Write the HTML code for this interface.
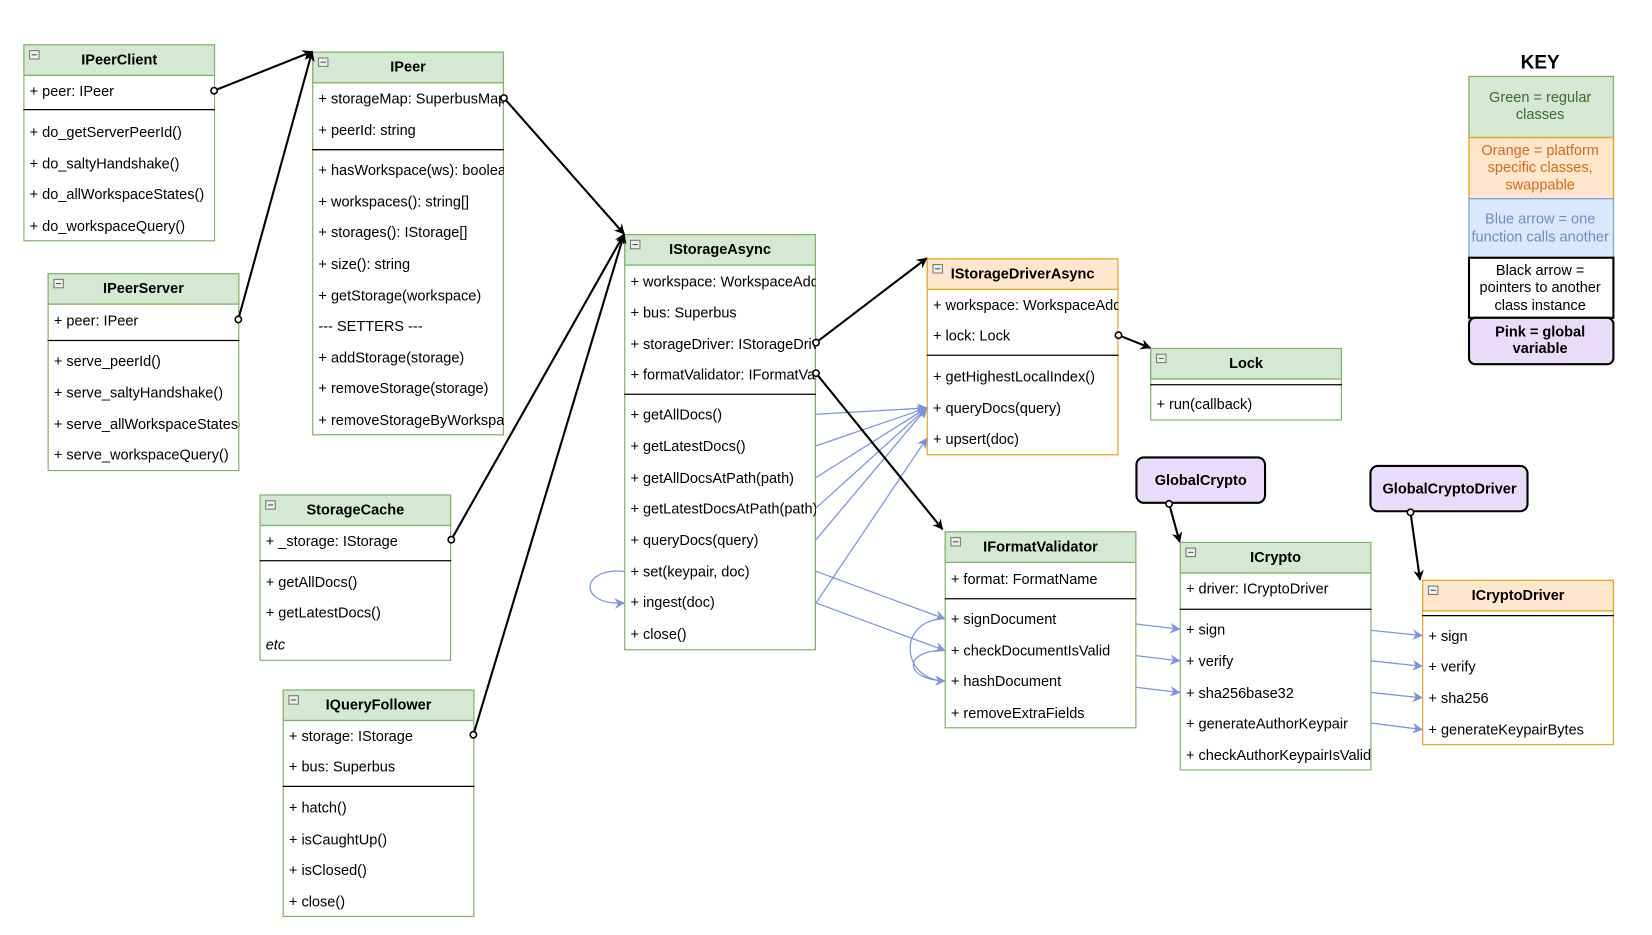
<!DOCTYPE html>
<html><head><meta charset="utf-8"><style>
html,body{margin:0;padding:0;background:#fff;width:1652px;height:935px;overflow:hidden}
text{font-family:"Liberation Sans",sans-serif;font-size:13.8px;fill:#000}
.h{font-weight:bold;text-anchor:middle}
.g{fill:#d5e8d4;stroke:#82b366;stroke-width:1.3}
.o{fill:#ffe6cc;stroke:#e6a817;stroke-width:1.3}
.w{fill:#fff}
.sep{stroke:#000;stroke-width:1.2}
.bl{stroke:#000;stroke-width:2;fill:none}
.bu{stroke:#7b93e6;stroke-width:1.2;fill:none}
</style></head><body>
<svg width="1652" height="935" viewBox="0 0 1567 887" xmlns="http://www.w3.org/2000/svg">
<defs>
<marker id="ak" markerWidth="10" markerHeight="10" refX="9" refY="5" orient="auto" markerUnits="userSpaceOnUse"><path d="M0,0 L10,5 L0,10 L3,5 Z" fill="#000"/></marker>
<marker id="ab" markerWidth="10" markerHeight="10" refX="9" refY="5" orient="auto" markerUnits="userSpaceOnUse"><path d="M0,0 L10,5 L0,10 L3,5 Z" fill="#7b93e6"/></marker>
<marker id="ci" markerWidth="8" markerHeight="8" refX="4" refY="4" orient="auto" markerUnits="userSpaceOnUse"><circle cx="4" cy="4" r="3" fill="#fff" stroke="#000" stroke-width="1.5"/></marker>
<g id="mi"><rect x="6" y="6" width="9" height="8" fill="#eee" stroke="#777" stroke-width="1"/><line x1="8" y1="10" x2="13" y2="10" stroke="#555"/></g>
</defs>

<!-- IPeerClient -->
<svg x="22" y="42" width="182" height="187" overflow="hidden">
<rect class="w" x="0.5" y="0.5" width="181" height="186" stroke="#82b366" stroke-width="1.3"/>
<rect class="g" x="0.5" y="0.5" width="181" height="29"/><use href="#mi"/>
<text class="h" x="91" y="19">IPeerClient</text>
<text x="6" y="49">+ peer: IPeer</text>
<line class="sep" x1="0" y1="62" x2="182" y2="62"/>
<text x="6" y="88">+ do_getServerPeerId()</text>
<text x="6" y="118">+ do_saltyHandshake()</text>
<text x="6" y="147">+ do_allWorkspaceStates()</text>
<text x="6" y="177">+ do_workspaceQuery()</text>
</svg>

<!-- IPeer -->
<svg x="296" y="49" width="182" height="364" overflow="hidden">
<rect class="w" x="0.5" y="0.5" width="181" height="363" stroke="#82b366" stroke-width="1.3"/>
<rect class="g" x="0.5" y="0.5" width="181" height="29"/><use href="#mi"/>
<text class="h" x="91" y="19">IPeer</text>
<text x="6" y="49">+ storageMap: SuperbusMap</text>
<text x="6" y="79">+ peerId: string</text>
<line class="sep" x1="0" y1="93" x2="182" y2="93"/>
<text x="6" y="117">+ hasWorkspace(ws): boolean</text>
<text x="6" y="147">+ workspaces(): string[]</text>
<text x="6" y="176">+ storages(): IStorage[]</text>
<text x="6" y="206">+ size(): string</text>
<text x="6" y="236">+ getStorage(workspace)</text>
<text x="6" y="265">--- SETTERS ---</text>
<text x="6" y="295">+ addStorage(storage)</text>
<text x="6" y="324">+ removeStorage(storage)</text>
<text x="6" y="354">+ removeStorageByWorkspace</text>
</svg>

<!-- IPeerServer -->
<svg x="45" y="259" width="182" height="188" overflow="hidden">
<rect class="w" x="0.5" y="0.5" width="181" height="187" stroke="#82b366" stroke-width="1.3"/>
<rect class="g" x="0.5" y="0.5" width="181" height="29"/><use href="#mi"/>
<text class="h" x="91" y="19">IPeerServer</text>
<text x="6" y="50">+ peer: IPeer</text>
<line class="sep" x1="0" y1="64" x2="182" y2="64"/>
<text x="6" y="88">+ serve_peerId()</text>
<text x="6" y="118">+ serve_saltyHandshake()</text>
<text x="6" y="148">+ serve_allWorkspaceStates()</text>
<text x="6" y="177">+ serve_workspaceQuery()</text>
</svg>

<!-- StorageCache -->
<svg x="246" y="469" width="182" height="158" overflow="hidden">
<rect class="w" x="0.5" y="0.5" width="181" height="157" stroke="#82b366" stroke-width="1.3"/>
<rect class="g" x="0.5" y="0.5" width="181" height="29"/><use href="#mi"/>
<text class="h" x="91" y="19">StorageCache</text>
<text x="6" y="49">+ _storage: IStorage</text>
<line class="sep" x1="0" y1="63" x2="182" y2="63"/>
<text x="6" y="88">+ getAllDocs()</text>
<text x="6" y="117">+ getLatestDocs()</text>
<text x="6" y="147" font-style="italic">etc</text>
</svg>

<!-- IQueryFollower -->
<svg x="268" y="654" width="182" height="216" overflow="hidden">
<rect class="w" x="0.5" y="0.5" width="181" height="215" stroke="#82b366" stroke-width="1.3"/>
<rect class="g" x="0.5" y="0.5" width="181" height="29"/><use href="#mi"/>
<text class="h" x="91" y="19">IQueryFollower</text>
<text x="6" y="49">+ storage: IStorage</text>
<text x="6" y="78">+ bus: Superbus</text>
<line class="sep" x1="0" y1="92" x2="182" y2="92"/>
<text x="6" y="117">+ hatch()</text>
<text x="6" y="147">+ isCaughtUp()</text>
<text x="6" y="176">+ isClosed()</text>
<text x="6" y="206">+ close()</text>
</svg>

<!-- IStorageAsync -->
<svg x="592" y="222" width="182" height="395" overflow="hidden">
<rect class="w" x="0.5" y="0.5" width="181" height="394" stroke="#82b366" stroke-width="1.3"/>
<rect class="g" x="0.5" y="0.5" width="181" height="29"/><use href="#mi"/>
<text class="h" x="91" y="19">IStorageAsync</text>
<text x="6" y="50">+ workspace: WorkspaceAddress</text>
<text x="6" y="79">+ bus: Superbus</text>
<text x="6" y="109">+ storageDriver: IStorageDriver</text>
<text x="6" y="138">+ formatValidator: IFormatValidator</text>
<line class="sep" x1="0" y1="152" x2="182" y2="152"/>
<text x="6" y="176">+ getAllDocs()</text>
<text x="6" y="206">+ getLatestDocs()</text>
<text x="6" y="236">+ getAllDocsAtPath(path)</text>
<text x="6" y="265">+ getLatestDocsAtPath(path)</text>
<text x="6" y="295">+ queryDocs(query)</text>
<text x="6" y="325">+ set(keypair, doc)</text>
<text x="6" y="354">+ ingest(doc)</text>
<text x="6" y="384">+ close()</text>
</svg>

<!-- IStorageDriverAsync -->
<svg x="879" y="245" width="182" height="187" overflow="hidden">
<rect class="w" x="0.5" y="0.5" width="181" height="186" stroke="#e6a817" stroke-width="1.3"/>
<rect class="o" x="0.5" y="0.5" width="181" height="29"/><use href="#mi"/>
<text class="h" x="91" y="19">IStorageDriverAsync</text>
<text x="6" y="49">+ workspace: WorkspaceAddress</text>
<text x="6" y="78">+ lock: Lock</text>
<line class="sep" x1="0" y1="92" x2="182" y2="92"/>
<text x="6" y="117">+ getHighestLocalIndex()</text>
<text x="6" y="147">+ queryDocs(query)</text>
<text x="6" y="176">+ upsert(doc)</text>
</svg>

<!-- Lock -->
<svg x="1091" y="330" width="182" height="69" overflow="hidden">
<rect class="w" x="0.5" y="0.5" width="181" height="68" stroke="#82b366" stroke-width="1.3"/>
<rect class="g" x="0.5" y="0.5" width="181" height="29"/><use href="#mi"/>
<text class="h" x="91" y="19">Lock</text>
<line class="sep" x1="0" y1="35" x2="182" y2="35"/>
<text x="6" y="58">+ run(callback)</text>
</svg>

<!-- IFormatValidator -->
<svg x="896" y="504" width="182" height="187" overflow="hidden">
<rect class="w" x="0.5" y="0.5" width="181" height="186" stroke="#82b366" stroke-width="1.3"/>
<rect class="g" x="0.5" y="0.5" width="181" height="29"/><use href="#mi"/>
<text class="h" x="91" y="19">IFormatValidator</text>
<text x="6" y="50">+ format: FormatName</text>
<line class="sep" x1="0" y1="64" x2="182" y2="64"/>
<text x="6" y="88">+ signDocument</text>
<text x="6" y="118">+ checkDocumentIsValid</text>
<text x="6" y="147">+ hashDocument</text>
<text x="6" y="177">+ removeExtraFields</text>
</svg>

<!-- ICrypto -->
<svg x="1119" y="514" width="182" height="217" overflow="hidden">
<rect class="w" x="0.5" y="0.5" width="181" height="216" stroke="#82b366" stroke-width="1.3"/>
<rect class="g" x="0.5" y="0.5" width="181" height="29"/><use href="#mi"/>
<text class="h" x="91" y="19">ICrypto</text>
<text x="6" y="49">+ driver: ICryptoDriver</text>
<line class="sep" x1="0" y1="64" x2="182" y2="64"/>
<text x="6" y="88">+ sign</text>
<text x="6" y="118">+ verify</text>
<text x="6" y="148">+ sha256base32</text>
<text x="6" y="177">+ generateAuthorKeypair</text>
<text x="6" y="207">+ checkAuthorKeypairIsValid</text>
</svg>

<!-- ICryptoDriver -->
<svg x="1349" y="550" width="182" height="157" overflow="hidden">
<rect class="w" x="0.5" y="0.5" width="181" height="156" stroke="#e6a817" stroke-width="1.3"/>
<rect class="o" x="0.5" y="0.5" width="181" height="29"/><use href="#mi"/>
<text class="h" x="91" y="19">ICryptoDriver</text>
<line class="sep" x1="0" y1="34" x2="182" y2="34"/>
<text x="6" y="58">+ sign</text>
<text x="6" y="87">+ verify</text>
<text x="6" y="117">+ sha256</text>
<text x="6" y="147">+ generateKeypairBytes</text>
</svg>

<!-- Globals -->
<rect x="1078" y="434" width="122" height="43" rx="7" fill="#e8dcf8" stroke="#000" stroke-width="2"/>
<text class="h" x="1139" y="460">GlobalCrypto</text>
<rect x="1300" y="442" width="149" height="43" rx="7" fill="#e8dcf8" stroke="#000" stroke-width="2"/>
<text class="h" x="1375" y="468">GlobalCryptoDriver</text>

<!-- KEY -->
<text class="h" x="1461" y="65" style="font-size:18px">KEY</text>
<rect x="1393.5" y="72.5" width="137" height="58" fill="#d5e8d4" stroke="#82b366" stroke-width="1.3"/>
<text x="1461" y="97" text-anchor="middle" style="fill:#3c6b28">Green = regular</text>
<text x="1461" y="113" text-anchor="middle" style="fill:#3c6b28">classes</text>
<rect x="1393.5" y="130.5" width="137" height="58" fill="#ffe6cc" stroke="#e6a817" stroke-width="1.3"/>
<text x="1461" y="147" text-anchor="middle" style="fill:#d96b1a">Orange = platform</text>
<text x="1461" y="163" text-anchor="middle" style="fill:#d96b1a">specific classes,</text>
<text x="1461" y="180" text-anchor="middle" style="fill:#d96b1a">swappable</text>
<rect x="1393.5" y="188.5" width="137" height="56" fill="#dae8fc" stroke="#7ea6e0" stroke-width="1.3"/>
<text x="1461" y="212" text-anchor="middle" style="fill:#6c8ebf">Blue arrow = one</text>
<text x="1461" y="229" text-anchor="middle" style="fill:#6c8ebf">function calls another</text>
<rect x="1393.5" y="244.5" width="137" height="57" fill="#fff" stroke="#000" stroke-width="2"/>
<text x="1461" y="261" text-anchor="middle">Black arrow =</text>
<text x="1461" y="277" text-anchor="middle">pointers to another</text>
<text x="1461" y="294" text-anchor="middle">class instance</text>
<rect x="1393.5" y="301.5" width="137" height="44" rx="6" fill="#e8dcf8" stroke="#000" stroke-width="2"/>
<text class="h" x="1461" y="319">Pink = global</text>
<text class="h" x="1461" y="335">variable</text>

<!-- Blue arrows -->
<g class="bu">
<line x1="774" y1="393" x2="879" y2="387" marker-end="url(#ab)"/>
<line x1="774" y1="423" x2="879" y2="387" marker-end="url(#ab)"/>
<line x1="774" y1="453" x2="879" y2="387" marker-end="url(#ab)"/>
<line x1="774" y1="482" x2="879" y2="387" marker-end="url(#ab)"/>
<line x1="774" y1="512" x2="879" y2="387" marker-end="url(#ab)"/>
<line x1="774" y1="572" x2="879" y2="416" marker-end="url(#ab)"/>
<line x1="774" y1="542" x2="896" y2="587" marker-end="url(#ab)"/>
<line x1="774" y1="572" x2="896" y2="617" marker-end="url(#ab)"/>
<path d="M592,542 C550,538 548,575 592,572" marker-end="url(#ab)"/>
<path d="M896,587 C850,588 855,645 896,646" marker-end="url(#ab)"/>
<path d="M896,617 C855,617 858,645 896,646"/>
<line x1="1078" y1="592" x2="1119" y2="597" marker-end="url(#ab)"/>
<line x1="1078" y1="622" x2="1119" y2="627" marker-end="url(#ab)"/>
<line x1="1078" y1="652" x2="1119" y2="657" marker-end="url(#ab)"/>
<line x1="1301" y1="598" x2="1349" y2="603" marker-end="url(#ab)"/>
<line x1="1301" y1="627" x2="1349" y2="632" marker-end="url(#ab)"/>
<line x1="1301" y1="657" x2="1349" y2="662" marker-end="url(#ab)"/>
<line x1="1301" y1="686" x2="1349" y2="692" marker-end="url(#ab)"/>
</g>

<!-- Black arrows -->
<g class="bl">
<line x1="203" y1="86" x2="296" y2="49" marker-start="url(#ci)" marker-end="url(#ak)"/>
<line x1="226" y1="303" x2="296" y2="49" marker-start="url(#ci)" marker-end="url(#ak)"/>
<line x1="478" y1="93" x2="592" y2="222" marker-start="url(#ci)" marker-end="url(#ak)"/>
<line x1="428" y1="512" x2="592" y2="222" marker-start="url(#ci)" marker-end="url(#ak)"/>
<line x1="449" y1="697" x2="592" y2="222" marker-start="url(#ci)" marker-end="url(#ak)"/>
<line x1="774" y1="325" x2="879" y2="245" marker-start="url(#ci)" marker-end="url(#ak)"/>
<line x1="774" y1="354" x2="894" y2="502" marker-start="url(#ci)" marker-end="url(#ak)"/>
<line x1="1061" y1="318" x2="1091" y2="330" marker-start="url(#ci)" marker-end="url(#ak)"/>
<line x1="1109" y1="478" x2="1119" y2="514" marker-start="url(#ci)" marker-end="url(#ak)"/>
<line x1="1338" y1="486" x2="1347" y2="550" marker-start="url(#ci)" marker-end="url(#ak)"/>
</g>
</svg>
</body></html>
